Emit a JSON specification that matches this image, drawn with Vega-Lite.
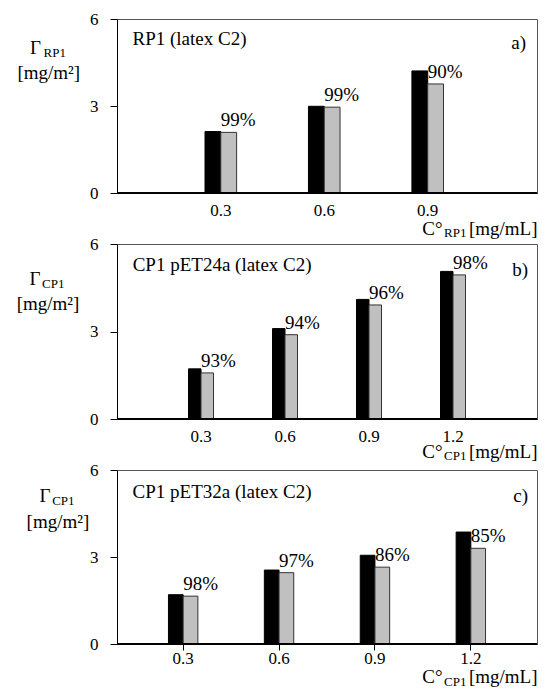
{
  "$schema": "https://vega.github.io/schema/vega-lite/v6.json",
  "padding": {"left": 15, "top": 9, "right": 0, "bottom": 0},
  "background": "white",
  "spacing": 51,
  "bounds": "flush",
  "config": {
    "font": "Liberation Serif",
    "view": {"stroke": "#555555", "strokeWidth": 1},
    "axis": {"grid": false, "labelColor": "#000000", "titleColor": "#000000", "domainColor": "#000000", "tickColor": "#000000", "titleFontWeight": "normal", "labelFont": "Liberation Serif", "titleFont": "Liberation Serif"},
    "title": {"font": "Liberation Serif", "fontWeight": "normal", "color": "#000000", "fontSize": 19, "anchor": "start", "frame": "group", "baseline": "alphabetic"},
    "text": {"font": "Liberation Serif"}
  },
  "datasets": {
    "a": [
      {"conc": "0.3", "series": "applied", "value": 2.12, "label": ""},
      {"conc": "0.3", "series": "adsorbed", "value": 2.09, "label": "99%"},
      {"conc": "0.6", "series": "applied", "value": 2.99, "label": ""},
      {"conc": "0.6", "series": "adsorbed", "value": 2.96, "label": "99%"},
      {"conc": "0.9", "series": "applied", "value": 4.21, "label": ""},
      {"conc": "0.9", "series": "adsorbed", "value": 3.76, "label": "90%"}
    ],
    "b": [
      {"conc": "0.3", "series": "applied", "value": 1.72, "label": ""},
      {"conc": "0.3", "series": "adsorbed", "value": 1.58, "label": "93%"},
      {"conc": "0.6", "series": "applied", "value": 3.10, "label": ""},
      {"conc": "0.6", "series": "adsorbed", "value": 2.89, "label": "94%"},
      {"conc": "0.9", "series": "applied", "value": 4.10, "label": ""},
      {"conc": "0.9", "series": "adsorbed", "value": 3.91, "label": "96%"},
      {"conc": "1.2", "series": "applied", "value": 5.06, "label": ""},
      {"conc": "1.2", "series": "adsorbed", "value": 4.94, "label": "98%"}
    ],
    "c": [
      {"conc": "0.3", "series": "applied", "value": 1.70, "label": ""},
      {"conc": "0.3", "series": "adsorbed", "value": 1.65, "label": "98%"},
      {"conc": "0.6", "series": "applied", "value": 2.55, "label": ""},
      {"conc": "0.6", "series": "adsorbed", "value": 2.46, "label": "97%"},
      {"conc": "0.9", "series": "applied", "value": 3.06, "label": ""},
      {"conc": "0.9", "series": "adsorbed", "value": 2.65, "label": "86%"},
      {"conc": "1.2", "series": "applied", "value": 3.86, "label": ""},
      {"conc": "1.2", "series": "adsorbed", "value": 3.30, "label": "85%"}
    ]
  },
  "vconcat": [
    {
      "width": 420, "height": 174,
      "data": {"name": "a"},
      "title": {"text": "RP1 (latex C2)", "offset": -38.5, "dx": 15.5},
      "resolve": {"axis": {"x": "independent", "y": "independent"}},
      "layer": [
        {
          "transform": [{"filter": "datum.series === 'applied'"}],
          "mark": {"type": "bar", "fill": "#000000", "stroke": "#000000", "strokeWidth": 1, "width": 15.8, "xOffset": -7.9},
          "encoding": {
            "x": {"field": "conc", "type": "nominal", "sort": null,
              "scale": {"paddingInner": 0, "paddingOuter": 0.53, "align": 0.475},
              "axis": {"orient": "bottom", "labelAngle": 0, "ticks": false, "tickSize": 0, "labelPadding": 22.5, "labelBaseline": "alphabetic", "labelFontSize": 17,
                "title": "[mg/mL]", "titleAlign": "right", "titleX": 420, "titleY": 41, "titleBaseline": "alphabetic", "titleFontSize": 19}},
            "y": {"field": "value", "type": "quantitative", "scale": {"domain": [0, 6]},
              "axis": {"orient": "left", "values": [0, 3, 6], "tickSize": 7, "labelPadding": 12, "labelFontSize": 17, "labelBaseline": "middle",
                "title": "[mg/m²]", "titleAngle": 0, "titleAlign": "center", "titleBaseline": "alphabetic", "titleX": -68.7, "titleY": 59, "titleFontSize": 19}}
          }
        },
        {
          "transform": [{"filter": "datum.series === 'adsorbed'"}],
          "mark": {"type": "bar", "fill": "#c0c0c0", "stroke": "#333333", "strokeWidth": 1, "width": 15.8, "xOffset": 7.9},
          "encoding": {
            "x": {"field": "conc", "type": "nominal", "sort": null,
              "axis": {"orient": "bottom", "labels": false, "ticks": false, "domain": false, "title": "RP1", "titleFontSize": 13, "titleAlign": "right", "titleX": 349, "titleY": 43.5, "titleBaseline": "alphabetic"}},
            "y": {"field": "value", "type": "quantitative",
              "axis": {"orient": "left", "labels": false, "ticks": false, "domain": false, "title": "RP1", "titleFontSize": 13, "titleAngle": 0, "titleAlign": "left", "titleX": -74, "titleY": 37, "titleBaseline": "alphabetic"}}
          }
        },
        {
          "transform": [{"filter": "datum.series === 'adsorbed'"}],
          "mark": {"type": "text", "align": "left", "baseline": "alphabetic", "dy": -6, "dx": 0, "fontSize": 19, "color": "#000000"},
          "encoding": {
            "x": {"field": "conc", "type": "nominal", "sort": null,
              "axis": {"orient": "bottom", "labels": false, "ticks": false, "domain": false, "title": "C°", "titleFontSize": 19, "titleAlign": "right", "titleX": 325, "titleY": 41, "titleBaseline": "alphabetic"}},
            "y": {"field": "value", "type": "quantitative",
              "axis": {"orient": "right", "labels": false, "ticks": false, "domain": false, "title": "a)", "titleFontSize": 19, "titleAngle": 0, "titleAlign": "right", "titleX": -11.5, "titleY": 29, "titleBaseline": "alphabetic"}},
            "text": {"field": "label"}
          }
        },
        {
          "mark": {"type": "rule", "color": "#000000", "strokeWidth": 1},
          "encoding": {
            "y": {"datum": 0, "type": "quantitative",
              "axis": {"orient": "left", "labels": false, "ticks": false, "domain": false, "title": "Γ", "titleFontSize": 19, "titleAngle": 0, "titleAlign": "left", "titleX": -87.5, "titleY": 34, "titleBaseline": "alphabetic"}}
          }
        }
      ]
    },
    {
      "width": 420, "height": 175,
      "data": {"name": "b"},
      "title": {"text": "CP1 pET24a (latex C2)", "offset": -39.5, "dx": 15.7},
      "resolve": {"axis": {"x": "independent", "y": "independent"}},
      "layer": [
        {
          "transform": [{"filter": "datum.series === 'applied'"}],
          "mark": {"type": "bar", "fill": "#000000", "stroke": "#000000", "strokeWidth": 1, "width": 12.5, "xOffset": -6.25},
          "encoding": {
            "x": {"field": "conc", "type": "nominal", "sort": null,
              "scale": {"paddingInner": 0, "paddingOuter": 0.5},
              "axis": {"orient": "bottom", "labelAngle": 0, "ticks": false, "tickSize": 0, "labelPadding": 22.3, "labelBaseline": "alphabetic", "labelFontSize": 17,
                "title": "[mg/mL]", "titleAlign": "right", "titleX": 420, "titleY": 38, "titleBaseline": "alphabetic", "titleFontSize": 19}},
            "y": {"field": "value", "type": "quantitative", "scale": {"domain": [0, 6]},
              "axis": {"orient": "left", "values": [0, 3, 6], "tickSize": 7, "labelPadding": 12, "labelFontSize": 17, "labelBaseline": "middle",
                "title": "[mg/m²]", "titleAngle": 0, "titleAlign": "center", "titleBaseline": "alphabetic", "titleX": -69.5, "titleY": 65, "titleFontSize": 19}}
          }
        },
        {
          "transform": [{"filter": "datum.series === 'adsorbed'"}],
          "mark": {"type": "bar", "fill": "#c0c0c0", "stroke": "#333333", "strokeWidth": 1, "width": 12.5, "xOffset": 6.25},
          "encoding": {
            "x": {"field": "conc", "type": "nominal", "sort": null,
              "axis": {"orient": "bottom", "labels": false, "ticks": false, "domain": false, "title": "CP1", "titleFontSize": 13, "titleAlign": "right", "titleX": 349, "titleY": 40.5, "titleBaseline": "alphabetic"}},
            "y": {"field": "value", "type": "quantitative",
              "axis": {"orient": "left", "labels": false, "ticks": false, "domain": false, "title": "CP1", "titleFontSize": 13, "titleAngle": 0, "titleAlign": "left", "titleX": -75.5, "titleY": 43, "titleBaseline": "alphabetic"}}
          }
        },
        {
          "transform": [{"filter": "datum.series === 'adsorbed'"}],
          "mark": {"type": "text", "align": "left", "baseline": "alphabetic", "dy": -6, "dx": 0, "fontSize": 19, "color": "#000000"},
          "encoding": {
            "x": {"field": "conc", "type": "nominal", "sort": null,
              "axis": {"orient": "bottom", "labels": false, "ticks": false, "domain": false, "title": "C°", "titleFontSize": 19, "titleAlign": "right", "titleX": 325, "titleY": 38, "titleBaseline": "alphabetic"}},
            "y": {"field": "value", "type": "quantitative",
              "axis": {"orient": "right", "labels": false, "ticks": false, "domain": false, "title": "b)", "titleFontSize": 19, "titleAngle": 0, "titleAlign": "right", "titleX": -9.5, "titleY": 31, "titleBaseline": "alphabetic"}},
            "text": {"field": "label"}
          }
        },
        {
          "mark": {"type": "rule", "color": "#000000", "strokeWidth": 1},
          "encoding": {
            "y": {"datum": 0, "type": "quantitative",
              "axis": {"orient": "left", "labels": false, "ticks": false, "domain": false, "title": "Γ", "titleFontSize": 19, "titleAngle": 0, "titleAlign": "left", "titleX": -88, "titleY": 40, "titleBaseline": "alphabetic"}}
          }
        }
      ]
    },
    {
      "width": 420, "height": 174,
      "data": {"name": "c"},
      "title": {"text": "CP1 pET32a (latex C2)", "offset": -40.5, "dx": 15.6},
      "resolve": {"axis": {"x": "independent", "y": "independent"}},
      "layer": [
        {
          "transform": [{"filter": "datum.series === 'applied'"}],
          "mark": {"type": "bar", "fill": "#000000", "stroke": "#000000", "strokeWidth": 1, "width": 14.7, "xOffset": -7.35},
          "encoding": {
            "x": {"field": "conc", "type": "nominal", "sort": null,
              "scale": {"paddingInner": 0, "paddingOuter": 0.19},
              "axis": {"orient": "bottom", "labelAngle": 0, "ticks": true, "tickSize": 6, "labelPadding": 13.5, "labelBaseline": "alphabetic", "labelFontSize": 17,
                "title": "[mg/mL]", "titleAlign": "right", "titleX": 420, "titleY": 38.5, "titleBaseline": "alphabetic", "titleFontSize": 19}},
            "y": {"field": "value", "type": "quantitative", "scale": {"domain": [0, 6]},
              "axis": {"orient": "left", "values": [0, 3, 6], "tickSize": 7, "labelPadding": 12, "labelFontSize": 17, "labelBaseline": "middle",
                "title": "[mg/m²]", "titleAngle": 0, "titleAlign": "center", "titleBaseline": "alphabetic", "titleX": -59.6, "titleY": 57, "titleFontSize": 19}}
          }
        },
        {
          "transform": [{"filter": "datum.series === 'adsorbed'"}],
          "mark": {"type": "bar", "fill": "#c0c0c0", "stroke": "#333333", "strokeWidth": 1, "width": 14.7, "xOffset": 7.35},
          "encoding": {
            "x": {"field": "conc", "type": "nominal", "sort": null,
              "axis": {"orient": "bottom", "labels": false, "ticks": false, "domain": false, "title": "CP1", "titleFontSize": 13, "titleAlign": "right", "titleX": 349, "titleY": 41, "titleBaseline": "alphabetic"}},
            "y": {"field": "value", "type": "quantitative",
              "axis": {"orient": "left", "labels": false, "ticks": false, "domain": false, "title": "CP1", "titleFontSize": 13, "titleAngle": 0, "titleAlign": "left", "titleX": -65.3, "titleY": 34, "titleBaseline": "alphabetic"}}
          }
        },
        {
          "transform": [{"filter": "datum.series === 'adsorbed'"}],
          "mark": {"type": "text", "align": "left", "baseline": "alphabetic", "dy": -6, "dx": 0, "fontSize": 19, "color": "#000000"},
          "encoding": {
            "x": {"field": "conc", "type": "nominal", "sort": null,
              "axis": {"orient": "bottom", "labels": false, "ticks": false, "domain": false, "title": "C°", "titleFontSize": 19, "titleAlign": "right", "titleX": 325, "titleY": 38.5, "titleBaseline": "alphabetic"}},
            "y": {"field": "value", "type": "quantitative",
              "axis": {"orient": "right", "labels": false, "ticks": false, "domain": false, "title": "c)", "titleFontSize": 19, "titleAngle": 0, "titleAlign": "right", "titleX": -9.5, "titleY": 31, "titleBaseline": "alphabetic"}},
            "text": {"field": "label"}
          }
        },
        {
          "mark": {"type": "rule", "color": "#000000", "strokeWidth": 1},
          "encoding": {
            "y": {"datum": 0, "type": "quantitative",
              "axis": {"orient": "left", "labels": false, "ticks": false, "domain": false, "title": "Γ", "titleFontSize": 19, "titleAngle": 0, "titleAlign": "left", "titleX": -78, "titleY": 31, "titleBaseline": "alphabetic"}}
          }
        }
      ]
    }
  ]
}
